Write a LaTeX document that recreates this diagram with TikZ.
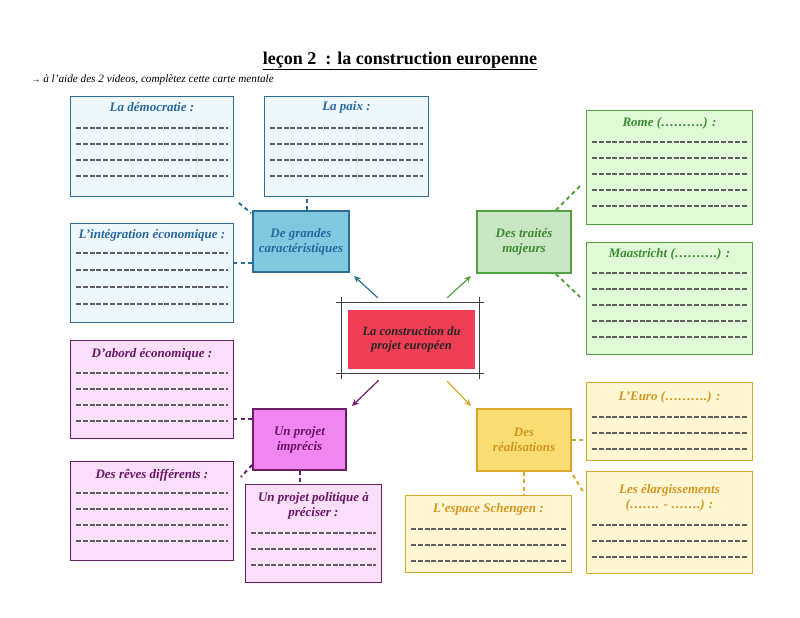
\documentclass[tikz,border=0pt]{standalone}
\usepackage{fontspec}
\setmainfont{Liberation Serif}
\usetikzlibrary{arrows.meta}

\definecolor{bluedark}{RGB}{45,110,150}
\definecolor{bluehub}{RGB}{128,200,224}
\definecolor{bluelight}{RGB}{238,248,252}
\definecolor{bluetext}{RGB}{40,105,160}
\definecolor{greendark}{RGB}{85,160,65}
\definecolor{greenhub}{RGB}{202,230,196}
\definecolor{greenlight}{RGB}{224,250,216}
\definecolor{greentext}{RGB}{60,140,50}
\definecolor{purpledark}{RGB}{110,30,100}
\definecolor{purplehub}{RGB}{240,135,240}
\definecolor{purplelight}{RGB}{250,222,250}
\definecolor{purpletext}{RGB}{105,20,100}
\definecolor{golddark}{RGB}{218,168,45}
\definecolor{goldhub}{RGB}{250,222,115}
\definecolor{goldlight}{RGB}{255,246,212}
\definecolor{goldtext}{RGB}{212,150,30}
\definecolor{redcore}{RGB}{240,62,85}
\definecolor{blankgray}{RGB}{95,95,95}

\newcommand\blanks[4]{%
  \foreach \k in {1,...,#2}
    \draw[blank] ([shift={(6,{#3+(\k-1)*#4})}]#1.north west) --
      ([shift={(-6,{#3+(\k-1)*#4})}]#1.north east);}

\begin{document}
\begin{tikzpicture}[x=1pt, y=-1pt,
  leaf/.style={rectangle, draw=#1dark, fill=#1light, line width=0.9pt,
    anchor=north west, inner sep=0pt},
  head/.style={text=#1text, align=center,
    font=\bfseries\itshape\fontsize{13}{15}\selectfont},
  hub/.style={rectangle, draw=#1dark, fill=#1hub, line width=1.8pt,
    align=center, text=#1text,
    font=\bfseries\itshape\fontsize{13}{15}\selectfont},
  blank/.style={blankgray, line width=1.5pt, dash pattern=on 5pt off 1.8pt},
  link/.style={#1dark, line width=2pt, dash pattern=on 4pt off 3.5pt},
  spoke/.style={#1dark, line width=1.2pt, -{Stealth[length=7pt,width=6pt]}},
  sketch/.style={black!75, line width=0.9pt}]
  \useasboundingbox (0,0) rectangle (800,618);

  \node [font=\bfseries\fontsize{18}{21}\selectfont] (title) at (400,61)
  {\underline{leçon 2~ : la construction europenne}};
  \node [anchor=west, font=\itshape\fontsize{11.2}{13}\selectfont] (hint) at (28,80)
  {{\upshape\small →} à l’aide des 2 videos, complètez cette carte mentale};

  \node [rectangle, fill=redcore, minimum width=127, minimum height=59,
  align=center, text=black!85,
  font=\bfseries\itshape\fontsize{12.5}{14}\selectfont] (core) at (411.5,339.5)
  {La construction du\\projet européen};
  \draw [sketch] ([shift={(-12,-7)}]core.north west) -- ([shift={(9,-7)}]core.north east);
  \draw [sketch] ([shift={(-12,4)}]core.south west) -- ([shift={(9,4)}]core.south east);
  \draw [sketch] ([shift={(-6,-13)}]core.north west) -- ([shift={(-6,10)}]core.south west);
  \draw [sketch] ([shift={(4,-13)}]core.north east) -- ([shift={(4,10)}]core.south east);

  \node [hub=blue, minimum width=96, minimum height=61] (big) at (301,241.5)
  {De grandes\\caractéristiques};
  \node [hub=green, minimum width=94, minimum height=62] (treaty) at (524,242)
  {Des traités\\majeurs};
  \node [hub=purple, minimum width=93, minimum height=61] (vague) at (299.5,439.5)
  {Un projet\\imprécis};
  \node [hub=gold, minimum width=94, minimum height=62] (done) at (524,440)
  {Des\\réalisations};

  \draw [spoke=blue] ([shift={(30,-12)}]core.north west) -- ([shift={(4,3)}]big.south east);
  \draw [spoke=green] ([shift={(-28,-12)}]core.north east) -- ([shift={(-5,2)}]treaty.south west);
  \draw [spoke=purple] ([shift={(31,11)}]core.south west) -- ([shift={(5,-2)}]vague.north east);
  \draw [spoke=gold] ([shift={(-28,12)}]core.south east) -- ([shift={(-5,-2)}]done.north west);

  \node [leaf=blue, minimum width=163, minimum height=100] (demo) at (70,96) {};
  \node [head=blue] (demot) at ([yshift=-11pt]demo.north) {La démocratie :};
  \blanks{demo}{4}{32}{16}
  \node [leaf=blue, minimum width=164, minimum height=100] (peace) at (264,96) {};
  \node [head=blue] (peacet) at ([yshift=-11pt]peace.north) {La paix :};
  \blanks{peace}{4}{32}{16}
  \node [leaf=blue, minimum width=163, minimum height=99] (integ) at (70,223) {};
  \node [head=blue] (integt) at ([yshift=-12pt]integ.north) {L’intégration économique :};
  \blanks{integ}{4}{30}{17}

  \node [leaf=green, minimum width=166, minimum height=114] (rome) at (586,110) {};
  \node [head=green] (romet) at ([yshift=-13pt]rome.north) {Rome (……….) :};
  \blanks{rome}{5}{32}{16}
  \node [leaf=green, minimum width=166, minimum height=112] (maas) at (586,242) {};
  \node [head=green] (maast) at ([yshift=-12pt]maas.north) {Maastricht (……….) :};
  \blanks{maas}{5}{31}{16}

  \node [leaf=purple, minimum width=163, minimum height=98] (first) at (70,340) {};
  \node [head=purple] (firstt) at ([yshift=-14pt]first.north) {D’abord économique :};
  \blanks{first}{4}{33}{16}
  \node [leaf=purple, minimum width=163, minimum height=99] (dream) at (70,461) {};
  \node [head=purple] (dreamt) at ([yshift=-14pt]dream.north) {Des rêves différents :};
  \blanks{dream}{4}{32}{16}
  \node [leaf=purple, minimum width=136, minimum height=98] (polit) at (245,484) {};
  \node [head=purple] (politt) at ([yshift=-21.5pt]polit.north)
  {Un projet politique à\\préciser :};
  \blanks{polit}{3}{49}{16}

  \node [leaf=gold, minimum width=166, minimum height=78] (euro) at (586,382) {};
  \node [head=gold] (eurot) at ([yshift=-15pt]euro.north) {L’Euro (……….) :};
  \blanks{euro}{3}{35}{16}
  \node [leaf=gold, minimum width=166, minimum height=102] (wide) at (586,471) {};
  \node [head=gold] (widet) at ([yshift=-26.5pt]wide.north)
  {Les élargissements\\(……. - …….) :};
  \blanks{wide}{3}{54}{16}
  \node [leaf=gold, minimum width=166, minimum height=77] (schen) at (405,495) {};
  \node [head=gold] (schent) at ([yshift=-14pt]schen.north) {L’espace Schengen :};
  \blanks{schen}{3}{34}{16}

  \coordinate (bigport) at ([shift={(0,-10)}]big.south west);
  \coordinate (vagueport) at ([shift={(0,11)}]vague.north west);
  \draw [link=blue] ([shift={(5,6)}]demo.south east) -- ([shift={(-1,3)}]big.north west);
  \draw [link=blue] ([xshift=6pt]big.north) -- ([xshift=6pt]big.north |- peace.south);
  \draw [link=blue] (bigport) -- (integ.east |- bigport);
  \draw [link=green] ([shift={(-16,0)}]treaty.north east) -- ([shift={(-6,-39)}]rome.south west);
  \draw [link=green] ([shift={(-16,0)}]treaty.south east) -- ([shift={(-6,55)}]maas.north west);
  \draw [link=purple] (vagueport) -- (first.east |- vagueport);
  \draw [link=purple] ([shift={(0,-6)}]vague.south west) -- ([shift={(7,16)}]dream.north east);
  \draw [link=purple] (vague.south) -- (vague.south |- polit.north);
  \draw [link=gold] (done.east) -- (done.east -| euro.west);
  \draw [link=gold] ([shift={(1,3)}]done.south east) -- ([shift={(-2,22)}]wide.north west);
  \draw [link=gold] (done.south) -- (done.south |- schen.north);
\end{tikzpicture}
\end{document}
